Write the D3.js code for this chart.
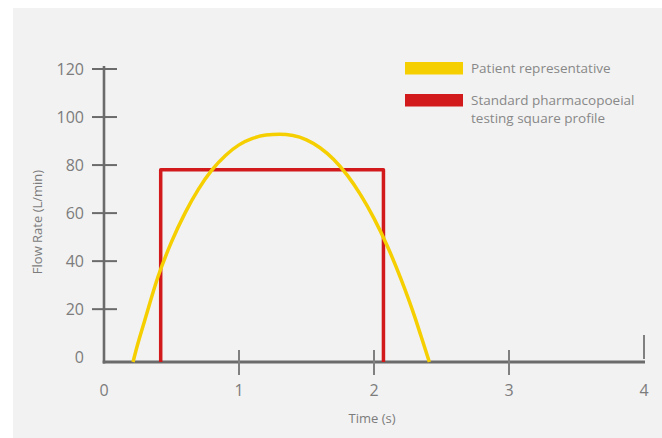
<!DOCTYPE html>
<html><head><meta charset="utf-8">
<script src="https://cdn.jsdelivr.net/npm/d3@7"></script>
<style>
html,body{margin:0;padding:0;background:#fff;}
svg{display:block;font-family:"Open Sans",Lato,sans-serif;font-weight:400;}
</style></head>
<body>
<svg id="c" width="662" height="438"></svg>
<script>
// ---- data ----
const xTicks = [0, 1, 2, 3, 4];
const yTicks = [0, 20, 40, 60, 80, 100, 120];
const yFloor = -2; // axis baseline sits slightly below 0
// Patient representative profile (time s, flow L/min)
const patientTime = [0.215, 0.25, 0.3, 0.4, 0.5, 0.6, 0.7, 0.8, 0.9, 1.0, 1.1, 1.2, 1.3, 1.4, 1.5, 1.6, 1.7, 1.8, 1.9, 2.0, 2.1, 2.2, 2.3, 2.35, 2.41];
const patientFlow = [-2, 5.5, 15, 33.5, 48, 60, 70, 78, 84, 88.4, 91.1, 92.5, 92.8, 92.3, 90.5, 87.2, 82.4, 75.9, 67.7, 57.8, 46.1, 32.5, 17.1, 8.5, -2];
// Standard pharmacopoeial square profile
const squareTime = [0.42, 0.42, 2.07, 2.07];
const squareFlow = [-2, 78, 78, -2];
const legendLabels = [["Patient representative"], ["Standard pharmacopoeial", "testing square profile"]];
const colors = ["#f5cf00", "#d2191c"];
const xTitle = "Time (s)";
const yTitle = "Flow Rate (L/min)";

// ---- drawing ----
const svg = d3.select("#c");
svg.append("rect").attr("x", 13).attr("y", 8).attr("width", 662 - 13).attr("height", 438 - 8).attr("fill", "#f2f2f2");

const x = d3.scaleLinear().domain([0, 4]).range([104, 644]);
const y = d3.scaleLinear().domain([yFloor, 120]).range([362, 69]);
const axisColor = "#6b6b6b";
const textColor = "#7c7c7c";

// y axis
svg.append("line").attr("x1", x(0)).attr("x2", x(0)).attr("y1", y(120) - 3).attr("y2", y(yFloor) + 1.5)
  .attr("stroke", axisColor).attr("stroke-width", 2.6);
const yt = svg.append("g");
yt.selectAll("line").data(yTicks.filter(d => d > 0)).join("line")
  .attr("x1", x(0) - 12).attr("x2", x(0) + 13).attr("y1", d => y(d)).attr("y2", d => y(d))
  .attr("stroke", axisColor).attr("stroke-width", 2);
yt.selectAll("text").data(yTicks).join("text")
  .attr("x", 84).attr("y", d => y(d)).attr("dy", "0.36em").attr("text-anchor", "end")
  .attr("fill", textColor).attr("font-size", 16).text(d => d);

// x axis
svg.append("line").attr("x1", x(0) - 1.3).attr("x2", x(4) + 1).attr("y1", y(yFloor)).attr("y2", y(yFloor))
  .attr("stroke", axisColor).attr("stroke-width", 3);
const xt = svg.append("g");
xt.selectAll("line").data(xTicks.filter(d => d > 0)).join("line")
  .attr("x1", d => x(d)).attr("x2", d => x(d))
  .attr("y1", d => d === 4 ? y(yFloor) - 27 : y(yFloor) - 12)
  .attr("y2", d => d === 4 ? y(yFloor) - 3 : y(yFloor) + 13)
  .attr("stroke", "#808080").attr("stroke-width", 2);
xt.selectAll("text").data(xTicks).join("text")
  .attr("x", d => x(d)).attr("y", 390).attr("dy", "0.36em").attr("text-anchor", "middle")
  .attr("fill", textColor).attr("font-size", 16).text(d => d);

// titles
svg.append("text").attr("x", x(2) - 2).attr("y", 418).attr("dy", "0.36em").attr("text-anchor", "middle")
  .attr("fill", textColor).attr("font-size", 13).text(xTitle);
svg.append("text").attr("transform", "translate(37,222) rotate(-90)").attr("dy", "0.36em").attr("text-anchor", "middle")
  .attr("fill", textColor).attr("font-size", 13).text(yTitle);

// series
svg.append("path").datum(squareTime.map((t, i) => [t, squareFlow[i]]))
  .attr("d", d3.line().x(d => x(d[0])).y(d => y(d[1]))).attr("fill", "none")
  .attr("stroke", colors[1]).attr("stroke-width", 3.5).attr("stroke-linejoin", "round");
svg.append("path").datum(patientTime.map((t, i) => [t, patientFlow[i]]))
  .attr("d", d3.line().x(d => x(d[0])).y(d => y(d[1])).curve(d3.curveMonotoneX)).attr("fill", "none")
  .attr("stroke", colors[0]).attr("stroke-width", 3.5);

// legend
const lg = svg.append("g");
const legY = [62, 94];
legendLabels.forEach((lines, i) => {
  lg.append("rect").attr("x", 405).attr("y", legY[i]).attr("width", 58).attr("height", 12.5).attr("fill", colors[i]);
  lines.forEach((s, j) => {
    lg.append("text").attr("x", 471).attr("y", legY[i] + 6.5 + j * 18).attr("dy", "0.36em")
      .attr("fill", "#888").attr("font-size", 13.5).text(s);
  });
});
</script>
</body></html>
